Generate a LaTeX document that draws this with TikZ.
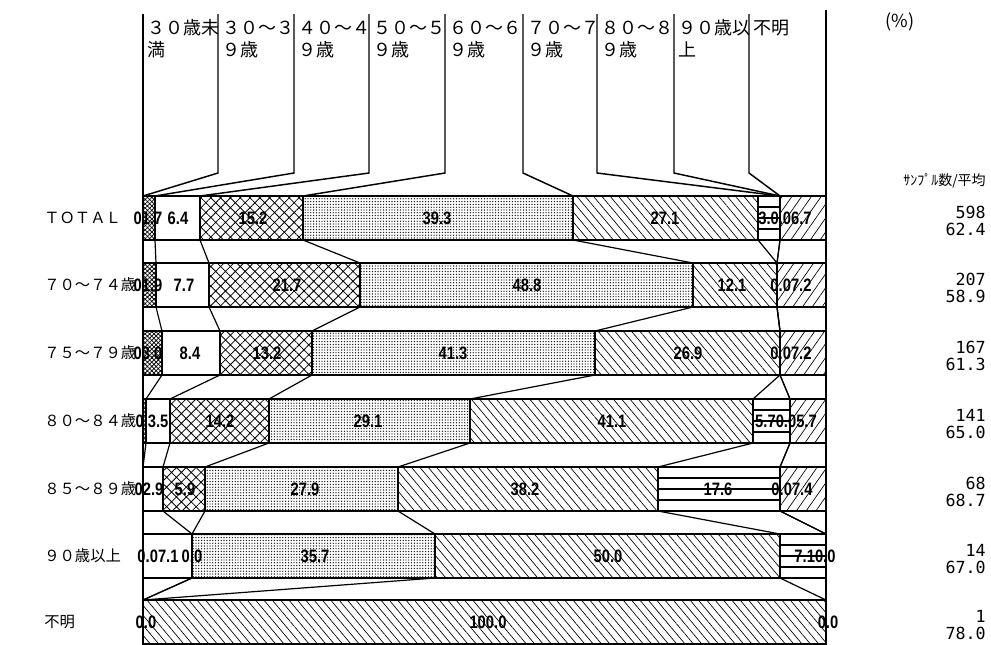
\documentclass[tikz,border=0pt]{standalone}
\usepackage{fontspec}
\setmainfont{Liberation Sans}
\newfontfamily\jpf{Noto Sans CJK JP}
\newfontfamily\monof{DejaVu Sans Mono}
\usetikzlibrary{patterns,patterns.meta}
\newcommand\vl[1]{\scalebox{0.82}[1]{\bfseries #1}}
\tikzset{
  pat1/.style={fill=white},
  pat2/.style={pattern={Hatch[angle=45,distance=2.3pt,line width=0.55pt]}},
  pat3/.style={fill=white},
  pat4/.style={pattern={Hatch[angle=45,distance=5.2pt,line width=0.6pt]}},
  pat5/.style={pattern={Dots[distance=2.1pt,radius=0.5pt]}},
  pat6/.style={pattern={Lines[angle=-50,distance=4.8pt,line width=0.5pt]}},
  pat7/.style={fill=white},
  pat8/.style={fill=white},
  pat9/.style={pattern={Lines[angle=55,distance=6pt,line width=0.5pt]}},
  barline/.style={line width=1.4pt},
  divline/.style={line width=2.1pt},
  conn/.style={line width=0.9pt},
  lead/.style={line width=1.1pt},
  hl/.style={line width=0.8pt},
  val/.style={inner sep=0pt,font=\fontsize{13.5}{14}\selectfont},
  lab/.style={inner sep=0pt,anchor=west,font=\jpf\fontsize{11.5}{12}\selectfont},
  hdr/.style={inner sep=0pt,anchor=base west,font=\jpf\fontsize{13.5}{14}\selectfont},
  num/.style={inner sep=0pt,anchor=east,font=\monof\fontsize{12.5}{13}\selectfont},
}
\begin{document}
\begin{tikzpicture}[x=0.75pt,y=-0.75pt]
\useasboundingbox (0,0) rectangle (991,644);
% boundary coordinates
\foreach \r/\top/\bs in {
 1/196/{143,143,155,200,303,573,758,780,780,826},
 2/263/{143,143,156,209,360,693,777,777,777,826},
 3/331/{143,143,162,220,312,595,780,780,780,826},
 4/399/{143,143,146,170,269,470,753,790,790,826},
 5/467/{143,143,143,163,205,398,658,780,780,826},
 6/534/{143,143,143,192,192,435,780,826,826,826},
 7/600/{143,143,143,143,143,143,826,826,826,826}}{
  \foreach \bx [count=\k from 0] in \bs {
    \coordinate (t\r-\k) at (\bx,\top);
    \coordinate (b\r-\k) at (\bx,\top+44);
  }
}
% segments
\foreach \r in {1,...,7}{
  \foreach \k in {1,...,9}{
    \pgfmathtruncatemacro\km{\k-1}
    \path[pat\k] (t\r-\km) rectangle (b\r-\k);
  }
  \foreach \f in {11,22,33}{
    \draw[hl] ([yshift=-\f*0.75pt]t\r-6) -- ([yshift=-\f*0.75pt]t\r-7);
  }
  \foreach \k in {1,...,8}{
    \draw[divline] (t\r-\k) -- (b\r-\k);
  }
  \draw[barline] (t\r-0) rectangle (b\r-9);
}
% connectors between bars
\foreach \r in {1,...,6}{
  \pgfmathtruncatemacro\n{\r+1}
  \foreach \k in {0,...,9}{
    \draw[conn] (b\r-\k) -- (t\n-\k);
  }
}
% header leader lines
\foreach \c/\hx/\tk in {1/143/0,2/218/1,3/294/2,4/369/3,5/445/4,6/523/5,7/597/7,8/674/7,9/749/8}{
  \coordinate (lt\c) at (\hx,14);
  \coordinate (lk\c) at (\hx,173);
  \draw[lead] (lt\c) -- (lk\c) -- (t1-\tk);
}
\coordinate (rt) at (826,10);
\draw[lead] (rt) -- (t1-9);
% header labels
\foreach \c/\hx/\la/\lb in {1/143/３０歳未/満,2/218/３０～３/９歳,3/294/４０～４/９歳,4/369/５０～５/９歳,5/445/６０～６/９歳,6/523/７０～７/９歳,7/597/８０～８/９歳,8/674/９０歳以/上,9/749/不明/{}}{
  \node[hdr] (ha\c) at (\hx+4,34) {\la};
  \node[hdr] (hb\c) at (\hx+4,56) {\lb};
}
\node[inner sep=0pt,font=\jpf\fontsize{13.5}{14}\selectfont] (pct) at (900,22) {(\%)};
\node[inner sep=0pt,anchor=east,font=\jpf\fontsize{10.5}{11}\selectfont] (smp) at (986,181) {ｻﾝﾌﾟﾙ数/平均};
% left labels
\foreach \r/\y/\t in {1/218/ＴＯＴＡＬ,2/285/７０～７４歳,3/353/７５～７９歳,4/421/８０～８４歳,5/489/８５～８９歳,6/556/９０歳以上,7/622/不明}{
  \node[lab] (L\r) at (44,\y) {\t};
}
% right numbers
\foreach \r/\y/\na/\nb in {1/218/598/62.4,2/285/207/58.9,3/353/167/61.3,4/421/141/65.0,5/489/68/68.7,6/556/14/67.0,7/622/1/78.0}{
  \node[num] (na\r) at (986,\y-6) {\na};
  \node[num] (nb\r) at (986,\y+11) {\nb};
}
% value labels
\foreach \r/\y/\labs in {
 1/218/{01.7/148,6.4/178,15.2/253,39.3/437,27.1/665,3.0.06.7/785},
 2/285/{01.9/148,7.7/184,21.7/287,48.8/527,12.1/732,0.07.2/791},
 3/353/{03.0/148,8.4/190,13.2/267,41.3/453,26.9/688,0.07.2/791},
 4/421/{0.3.5/152,14.2/220,29.1/368,41.1/612,5.70.05.7/786},
 5/489/{02.9/149,5.9/185,27.9/305,38.2/525,17.6/718,0.07.4/792},
 6/556/{0.07.1/158,0.0/192,35.7/315,50.0/608,7.10.0/815},
 7/622/{0.0/146,100.0/488,0.0/828}}{
  \foreach \t/\x [count=\i] in \labs {
    \node[val] (v\r-\i) at (\x,\y) {\vl{\t}};
  }
}
\end{tikzpicture}
\end{document}
